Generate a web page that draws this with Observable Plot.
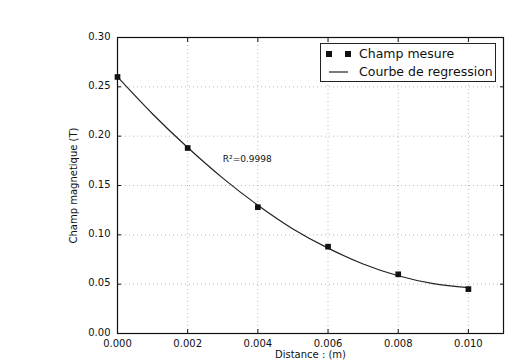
<!DOCTYPE html>
<html><head><meta charset="utf-8">
<script src="https://cdn.jsdelivr.net/npm/d3@7"></script>
<script src="https://cdn.jsdelivr.net/npm/@observablehq/plot@0.6"></script>
<style>
body{margin:0;background:#fff;font-family:"DejaVu Sans",sans-serif;}
#wrap{position:relative;width:512px;height:361px;}
#legend{position:absolute;left:320px;top:43px;width:176px;height:39px;border:1px solid #222;background:#fff;font-size:12.5px;color:#111;box-sizing:border-box;}
#legend .row{position:absolute;left:0;height:18px;line-height:18px;}
</style></head>
<body><div id="wrap"></div>
<script>
const distances = [0, 0.002, 0.004, 0.006, 0.008, 0.010];
const champ = [0.26, 0.188, 0.128, 0.088, 0.060, 0.045];
const curveX = [0, 0.001, 0.002, 0.003, 0.004, 0.005, 0.006, 0.007, 0.008, 0.009, 0.010];
const curveY = [0.260, 0.2225, 0.1885, 0.1575, 0.130, 0.106, 0.0865, 0.0705, 0.0585, 0.0505, 0.0465];
const xTicks = [0, 0.002, 0.004, 0.006, 0.008, 0.010];
const yTicks = [0, 0.05, 0.10, 0.15, 0.20, 0.25, 0.30];
const r2Label = "R²=0.9998";

const pts = distances.map((d,i)=>({x:d,y:champ[i]}));
const curve = curveX.map((d,i)=>({x:d,y:curveY[i]}));

const chart = Plot.plot({
  width:512, height:361,
  marginLeft:117, marginRight:9, marginTop:37, marginBottom:28,
  style:{fontFamily:"DejaVu Sans, sans-serif", fontSize:"10px", color:"#111", background:"#fff"},
  x:{domain:[0,0.011]},
  y:{domain:[0,0.30]},
  marks:[
    Plot.gridX(xTicks,{stroke:"#777", strokeOpacity:0.5, strokeDasharray:"1,3"}),
    Plot.gridY(yTicks,{stroke:"#777", strokeOpacity:0.5, strokeDasharray:"1,3"}),
    Plot.axisX(xTicks,{anchor:"bottom", tickSize:0, tickPadding:6, tickFormat:d3.format(".3f"), label:"Distance : (m)", labelAnchor:"center", labelOffset:24, labelArrow:"none", fontSize:10}),
    Plot.axisY(yTicks,{anchor:"left", tickSize:0, tickPadding:7, dy:-1, tickFormat:d3.format(".2f"), label:"Champ magnetique (T)", labelAnchor:"center", labelOffset:48, labelArrow:"none", fontSize:10}),
    Plot.axisX(xTicks,{anchor:"bottom", tickSize:-4, text:null, label:null}),
    Plot.axisX(xTicks,{anchor:"top", tickSize:-4, text:null, label:null}),
    Plot.axisY(yTicks,{anchor:"left", tickSize:-4, text:null, label:null}),
    Plot.axisY(yTicks,{anchor:"right", tickSize:-4, text:null, label:null}),
    Plot.frame({stroke:"#111", strokeWidth:1.2}),
    Plot.line(curve,{x:"x", y:"y", curve:"catmull-rom", stroke:"#222", strokeWidth:1.2}),
    Plot.dot(pts,{x:"x", y:"y", symbol:"square", r:3.2, fill:"#111", stroke:"none"}),
    Plot.text([{x:0.003,y:0.177}],{x:"x", y:"y", text:()=>r2Label, textAnchor:"start", fontSize:9, fill:"#111"})
  ]
});
const wrap = document.getElementById("wrap");
wrap.appendChild(chart);
const lg = document.createElement("div");
lg.id="legend";
lg.innerHTML = `
<svg width="40" height="38" style="position:absolute;left:0;top:0">
<rect x="5" y="7" width="6" height="6" fill="#111"/>
<rect x="24" y="7" width="6" height="6" fill="#111"/>
<line x1="8" x2="27" y1="28" y2="28" stroke="#222" stroke-width="1.2"/>
</svg>
<div class="row" style="left:38px;top:1px">Champ mesure</div>
<div class="row" style="left:38px;top:19px">Courbe de regression</div>`;
wrap.appendChild(lg);
</script></body></html>
